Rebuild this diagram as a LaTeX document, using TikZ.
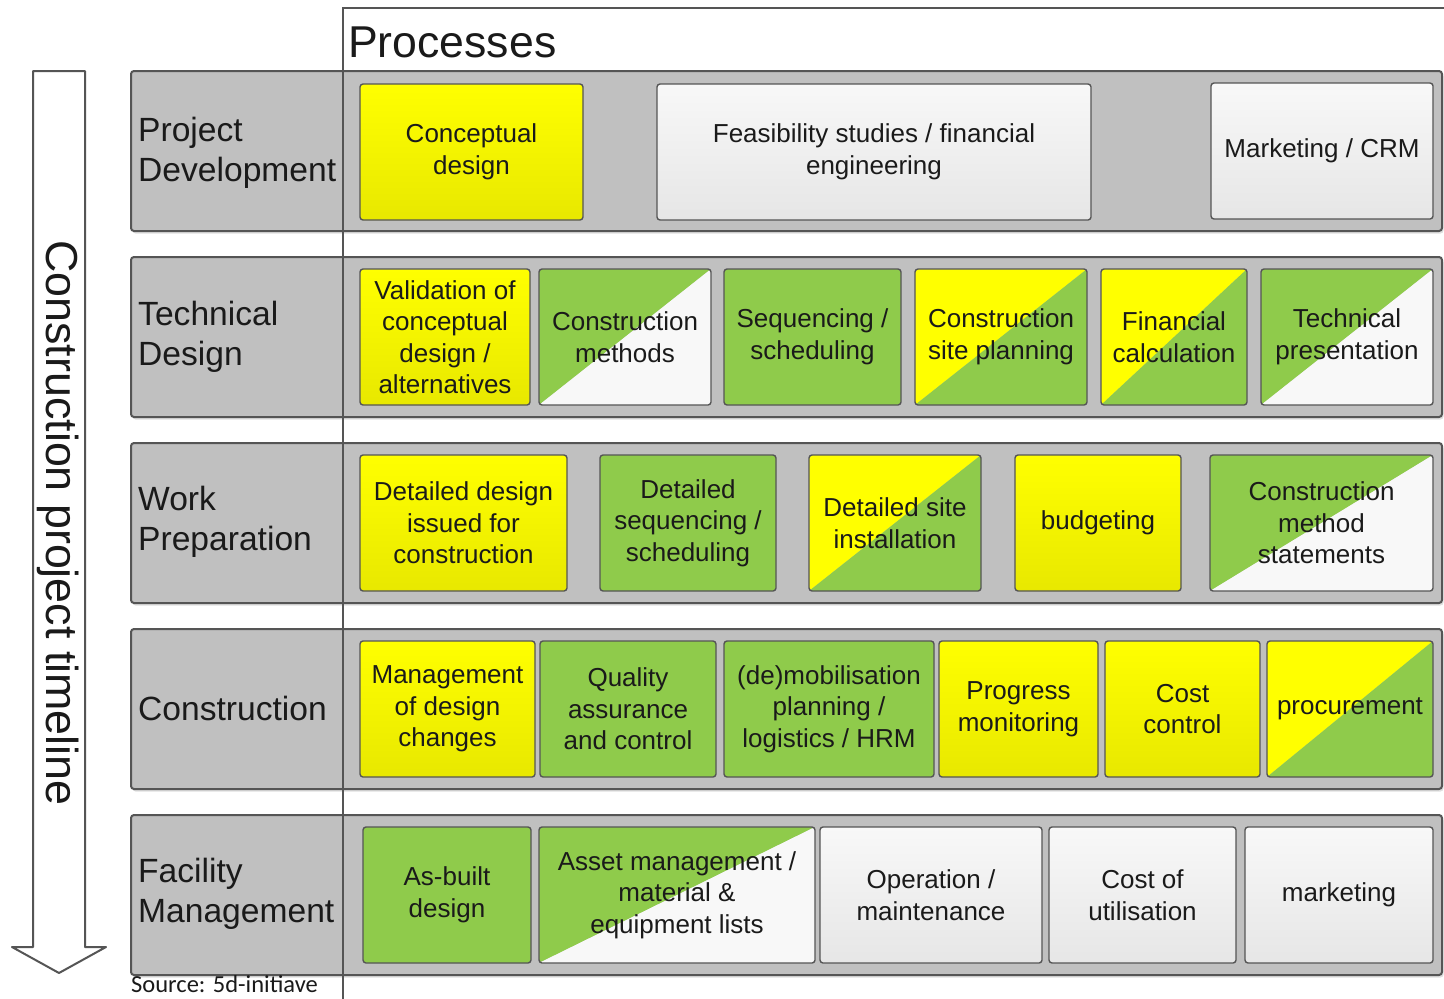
\documentclass[tikz,border=0pt]{standalone}
\usepackage{fontspec}
\setmainfont{Liberation Sans}
\newfontfamily\srcfont{Carlito}
\usetikzlibrary{shadows}
\definecolor{rowgray}{HTML}{C0C0C0}
\definecolor{edgec}{HTML}{555555}
\definecolor{ygreen}{HTML}{8FCB4B}
\definecolor{yel}{HTML}{FFFF00}
\definecolor{yeld}{HTML}{E8E800}
\definecolor{wht}{HTML}{F8F8F8}
\definecolor{whtd}{HTML}{E6E6E6}
\definecolor{txt}{HTML}{1A1A1A}
\tikzset{
  rowbox/.style={draw=edgec, line width=2pt, fill=rowgray, rounded corners=3pt,
    minimum width=1311pt, minimum height=160pt, inner sep=0pt,
    drop shadow={shadow xshift=1.5pt, shadow yshift=-2.5pt, opacity=0.25}},
  rowlabel/.style={anchor=west, align=left, font=\fontsize{33.6}{40}\selectfont, text=txt, inner sep=0pt},
  pbox/.style={draw=edgec, line width=1.4pt, rounded corners=3pt, align=center,
    font=\fontsize{26}{31.5}\selectfont, text=txt, inner sep=1pt, minimum height=136pt},
  ybox/.style={pbox, top color=yel, bottom color=yeld},
  gbox/.style={pbox, fill=ygreen},
  wbox/.style={pbox, top color=wht, bottom color=whtd},
  splitbox/.style 2 args={pbox, path picture={
    \fill[#1] (path picture bounding box.north west) -- (path picture bounding box.north east)
      -- (path picture bounding box.south west) -- cycle;
    \fill[#2] (path picture bounding box.north east) -- (path picture bounding box.south east)
      -- (path picture bounding box.south west) -- cycle;}},
}
\begin{document}
\begin{tikzpicture}[x=1pt, y=-1pt]
\useasboundingbox (0,0) rectangle (1444,999);
\fill[white] (0,0) rectangle (1444,999);

% timeline arrow
\draw[draw=edgec, line width=2pt, fill=white, line join=round]
  (33,71) -- (85,71) -- (85,947) -- (106,947) -- (59,973) -- (12,947) -- (33,947) -- cycle;
\node[rotate=-90, font=\fontsize{44.8}{50}\selectfont, text=txt, inner sep=0pt] (tl) at (58,523) {Construction project timeline};

% rows
\node[rowbox] (r1) at (786.5,151) {};
\node[rowbox] (r2) at (786.5,337) {};
\node[rowbox] (r3) at (786.5,523) {};
\node[rowbox] (r4) at (786.5,709) {};
\node[rowbox] (r5) at (786.5,895) {};

% processes frame
\draw[edgec, line width=2pt] (343,1010) -- (343,8) -- (1460,8);
\node[anchor=base west, font=\fontsize{44.6}{50}\selectfont, text=txt, inner sep=0pt] (ptitle) at (348,57) {Processes};

% row labels
\node[rowlabel] (l1) at (138,153) {Project\\Development};
\node[rowlabel] (l2) at (138,337) {Technical\\Design};
\node[rowlabel] (l3) at (138,522) {Work\\Preparation};
\node[rowlabel] (l4) at (138,708) {Construction};
\node[rowlabel] (l5) at (138,894) {Facility\\Management};

% row 1
\node[ybox, minimum width=223pt] (b11) at (471.5,152) {Conceptual\\design};
\node[wbox, minimum width=434pt] (b12) at (874,152) {Feasibility studies / financial\\engineering};
\node[wbox, minimum width=222pt] (b13) at (1322,151) {Marketing / CRM};

% row 2
\node[ybox, minimum width=170pt] (b21) at (445,337) {Validation of\\conceptual\\design /\\alternatives};
\node[splitbox={ygreen}{wht}, minimum width=172pt] (b22) at (625,337) {Construction\\methods};
\node[gbox, minimum width=177pt] (b23) at (812.5,337) {Sequencing /\\scheduling};
\node[splitbox={yel}{ygreen}, minimum width=172pt] (b24) at (1001,337) {Construction\\site planning};
\node[splitbox={yel}{ygreen}, minimum width=146pt] (b25) at (1174,337) {Financial\\calculation};
\node[splitbox={ygreen}{wht}, minimum width=172pt] (b26) at (1347,337) {Technical\\presentation};

% row 3
\node[ybox, minimum width=207pt] (b31) at (463.5,523) {Detailed design\\issued for\\construction};
\node[gbox, minimum width=176pt] (b32) at (688,523) {Detailed\\sequencing /\\scheduling};
\node[splitbox={yel}{ygreen}, minimum width=172pt] (b33) at (895,523) {Detailed site\\installation};
\node[ybox, minimum width=166pt] (b34) at (1098,523) {budgeting};
\node[splitbox={ygreen}{wht}, minimum width=223pt] (b35) at (1321.5,523) {Construction\\method\\statements};

% row 4
\node[ybox, minimum width=175pt] (b41) at (447.5,709) {Management\\of design\\changes};
\node[gbox, minimum width=176pt] (b42) at (628,709) {Quality\\assurance\\and control};
\node[gbox, minimum width=210pt] (b43) at (829,709) {(de)mobilisation\\planning /\\logistics / HRM};
\node[ybox, minimum width=159pt] (b44) at (1018.5,709) {Progress\\monitoring};
\node[ybox, minimum width=155pt] (b45) at (1182.5,709) {Cost\\control};
\node[splitbox={yel}{ygreen}, minimum width=166pt] (b46) at (1350,709) {procurement};

% row 5
\node[gbox, minimum width=168pt] (b51) at (447,895) {As-built\\design};
\node[splitbox={ygreen}{wht}, minimum width=276pt] (b52) at (677,895) {Asset management /\\material \&\\equipment lists};
\node[wbox, minimum width=222pt] (b53) at (931,895) {Operation /\\maintenance};
\node[wbox, minimum width=187pt] (b54) at (1142.5,895) {Cost of\\utilisation};
\node[wbox, minimum width=188pt] (b55) at (1339,895) {marketing};

% source
\node[anchor=base west, font=\srcfont\fontsize{24.5}{28}\selectfont, text=txt, inner sep=0pt] (src) at (131,992) {Source: 5d-initiave};
\end{tikzpicture}
\end{document}
